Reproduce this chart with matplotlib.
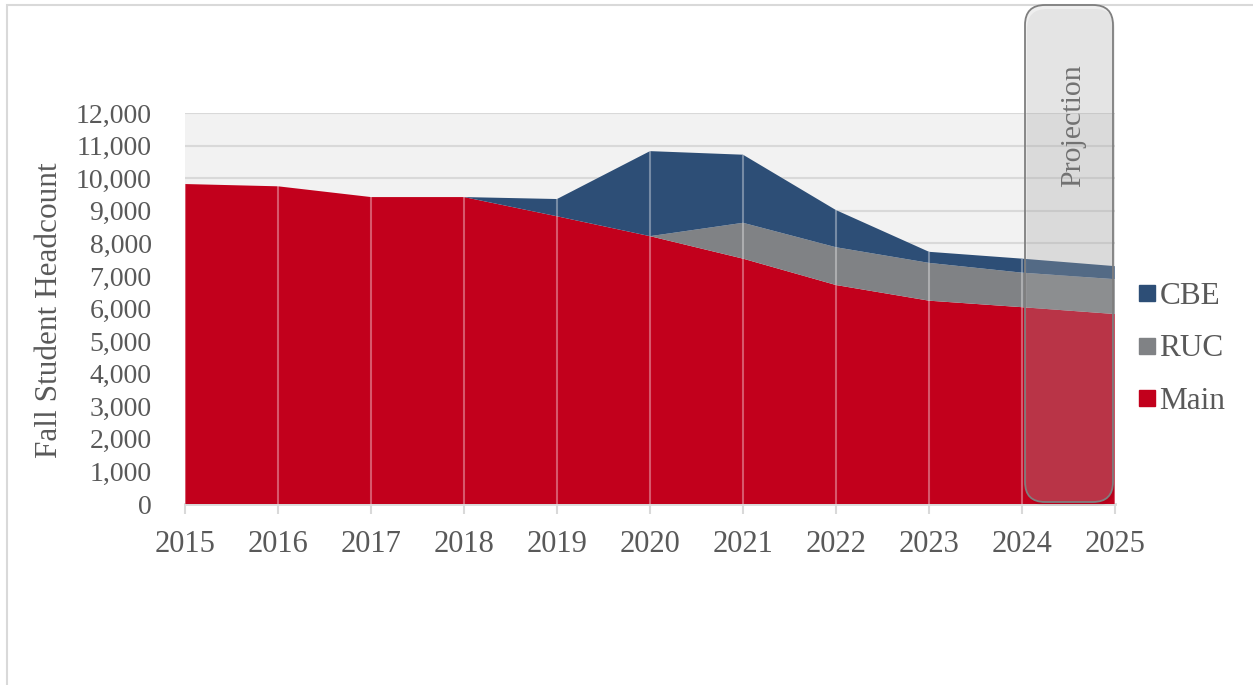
import matplotlib.pyplot as plt
from matplotlib.patches import FancyBboxPatch, Rectangle
from matplotlib.lines import Line2D

plt.rcParams["font.family"] = ["Liberation Serif", "DejaVu Serif"]

years = [2015, 2016, 2017, 2018, 2019, 2020, 2021, 2022, 2023, 2024, 2025]
main = [9820, 9750, 9420, 9420, 8830, 8220, 7530, 6720, 6240, 6040, 5830]
ruc = [0, 0, 0, 0, 0, 0, 1100, 1160, 1160, 1060, 1070]
cbe = [0, 0, 0, 0, 530, 2610, 2090, 1140, 340, 430, 400]

series_names = ["Main", "RUC", "CBE"]
colors = {"Main": "#c2001c", "RUC": "#808285", "CBE": "#2d4e76"}
text_gray = "#595959"
grid_gray = "#d9d9d9"

W, H = 1253, 685
fig = plt.figure(figsize=(W / 100, H / 100), dpi=100)
ax = fig.add_axes([185 / W, 1 - 504 / H, 930 / W, 391 / H])

# outer chart border
fig.patches.append(
    Rectangle((7 / W, -0.05), 1.1, 1 - 5 / H + 0.05, transform=fig.transFigure,
              fill=False, edgecolor=grid_gray, linewidth=1.5)
)

ax.set_facecolor("#f2f2f2")
ax.stackplot(years, main, ruc, cbe,
             colors=[colors["Main"], colors["RUC"], colors["CBE"]],
             linewidth=0, zorder=2)

totals = [m + r + c for m, r, c in zip(main, ruc, cbe)]
ax.vlines(years, 0, totals, colors="white", alpha=0.35, linewidth=1.5, zorder=3)

ax.set_xlim(2015, 2025)
ax.set_ylim(0, 12000)
ax.set_yticks(range(0, 12001, 1000))
ax.set_yticklabels([f"{v:,}" for v in range(0, 12001, 1000)])
ax.set_xticks(years)
ax.set_xticklabels([str(y) for y in years])
ax.yaxis.grid(True, color=grid_gray, linewidth=1.5, zorder=1)
ax.set_axisbelow(True)

for s in ["top", "right", "left"]:
    ax.spines[s].set_visible(False)
ax.spines["bottom"].set_color(grid_gray)
ax.spines["bottom"].set_linewidth(2)
ax.spines["bottom"].set_zorder(1)

ax.tick_params(axis="y", length=0, pad=24, labelsize=20, labelcolor=text_gray)
ax.tick_params(axis="x", length=7, width=1.5, color=grid_gray, pad=12,
               labelsize=22, labelcolor=text_gray)

fig.text(50 / W, 1 - 310 / H, "Fall Student Headcount", rotation=90,
         ha="center", va="center", fontsize=22.5, color=text_gray)

# projection box
shadow = FancyBboxPatch((1027 / W, 1 - 506 / H), 88 / W, 497 / H,
                        boxstyle="round,pad=0,rounding_size=0.016",
                        mutation_aspect=W / H, transform=fig.transFigure,
                        facecolor="black", alpha=0.06, edgecolor="none", zorder=4)
fig.patches.append(shadow)
box = FancyBboxPatch((1025 / W, 1 - 502 / H), 88 / W, 497 / H,
                     boxstyle="round,pad=0,rounding_size=0.016",
                     mutation_aspect=W / H, transform=fig.transFigure,
                     facecolor="#c4c4c4", alpha=0.27, edgecolor="none", zorder=5)
fig.patches.append(box)
box_edge = FancyBboxPatch((1025 / W, 1 - 502 / H), 88 / W, 497 / H,
                          boxstyle="round,pad=0,rounding_size=0.016",
                          mutation_aspect=W / H, transform=fig.transFigure,
                          facecolor="none", edgecolor="#7f7f7f", linewidth=1.3,
                          zorder=6)
fig.patches.append(box_edge)
fig.text(1073 / W, 1 - 126 / H, "Projection", rotation=90, ha="center",
         va="center", fontsize=21.5, color=text_gray)

handles = [Line2D([], [], marker="s", linestyle="none", markersize=11.5,
                  markerfacecolor=colors[n], markeredgecolor=colors[n])
           for n in reversed(series_names)]
fig.legend(handles, list(reversed(series_names)), loc="center left",
           bbox_to_anchor=(1122 / W, 1 - 349 / H), frameon=False,
           fontsize=22.5, labelcolor=text_gray, handlelength=0.6,
           handletextpad=0.1, labelspacing=0.74, borderpad=0)

fig.savefig("out.png", dpi=100)
